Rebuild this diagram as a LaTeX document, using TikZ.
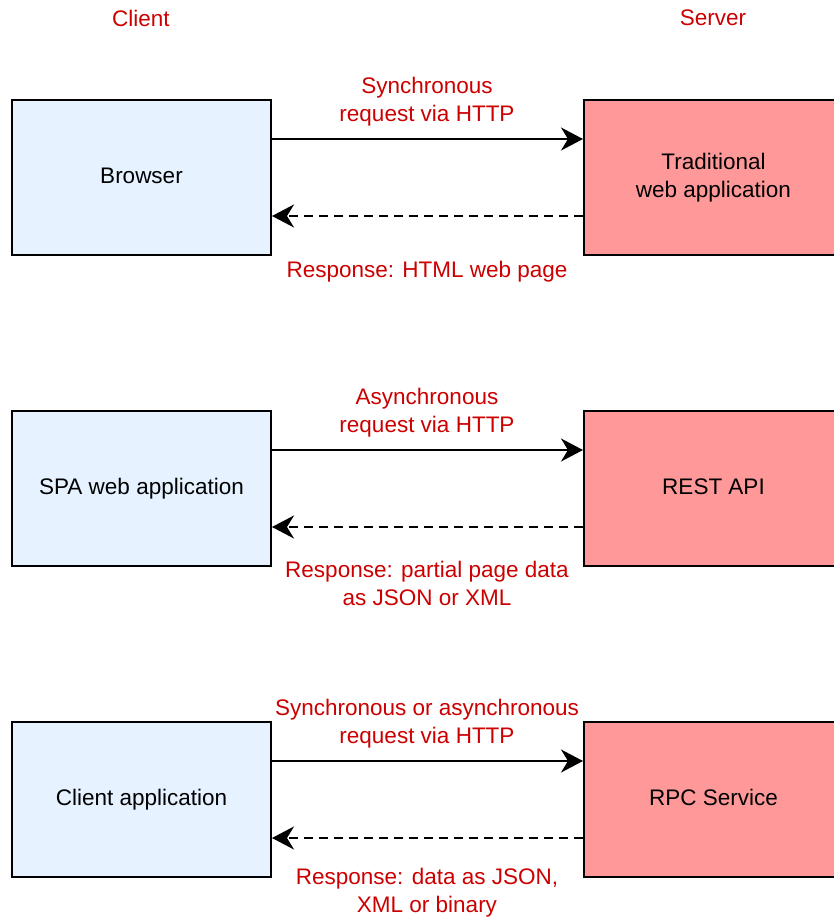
\documentclass[tikz,border=0pt]{standalone}
\usepackage{fontspec}
\setmainfont{Liberation Sans}
\usetikzlibrary{arrows.meta}
\definecolor{clientfill}{RGB}{230,242,255}
\definecolor{serverfill}{RGB}{255,153,153}
\definecolor{labelred}{RGB}{204,0,0}
\begin{document}
\begin{tikzpicture}[x=1pt,y=-1pt,
  every node/.style={font=\fontsize{22.5}{28}\selectfont, inner sep=0pt},
  box/.style={draw=black, line width=2pt, minimum width=259pt, minimum height=155pt, anchor=center, align=center},
  clientbox/.style={box, fill=clientfill},
  serverbox/.style={box, fill=serverfill},
  lbl/.style={text=labelred, align=center},
  tip/.style={-{Stealth[length=22pt,width=23pt,inset=7pt]}},
  req/.style={tip, line width=2pt},
  resp/.style={tip, line width=2pt, dash pattern=on 9pt off 6pt}]
\useasboundingbox (0,0) rectangle (833,917);

\node[lbl] (client) at (141,18) {Client};
\node[lbl] (server) at (713,18) {Server};

% row 1
\node[clientbox] (c1) at (141.5,177.5) {\strut Browser};
\node[serverbox] (s1) at (713.5,177.5) {Traditional\\web application};
\draw[req] ([yshift=38.5pt]c1.east) -- ([yshift=38.5pt]s1.west);
\draw[resp] ([yshift=-38.5pt]s1.west) -- ([yshift=-38.5pt]c1.east);
\node[lbl] (q1) at (427,101.5) {Synchronous\\request via HTTP};
\node[lbl] (r1) at (427,272) {Response: HTML web page};

% row 2
\node[clientbox] (c2) at (141.5,488.5) {\strut SPA web application};
\node[serverbox] (s2) at (713.5,488.5) {\strut REST API};
\draw[req] ([yshift=38.5pt]c2.east) -- ([yshift=38.5pt]s2.west);
\draw[resp] ([yshift=-38.5pt]s2.west) -- ([yshift=-38.5pt]c2.east);
\node[lbl] (q2) at (427,412.5) {Asynchronous\\request via HTTP};
\node[lbl] (r2) at (427,583) {Response: partial page data\\as JSON or XML};

% row 3
\node[clientbox] (c3) at (141.5,799.5) {\strut Client application};
\node[serverbox] (s3) at (713.5,799.5) {\strut RPC Service};
\draw[req] ([yshift=38.5pt]c3.east) -- ([yshift=38.5pt]s3.west);
\draw[resp] ([yshift=-38.5pt]s3.west) -- ([yshift=-38.5pt]c3.east);
\node[lbl] (q3) at (427,723.5) {Synchronous or asynchronous\\request via HTTP};
\node[lbl] (r3) at (427,893) {Response: data as JSON,\\XML or binary};
\end{tikzpicture}
\end{document}
